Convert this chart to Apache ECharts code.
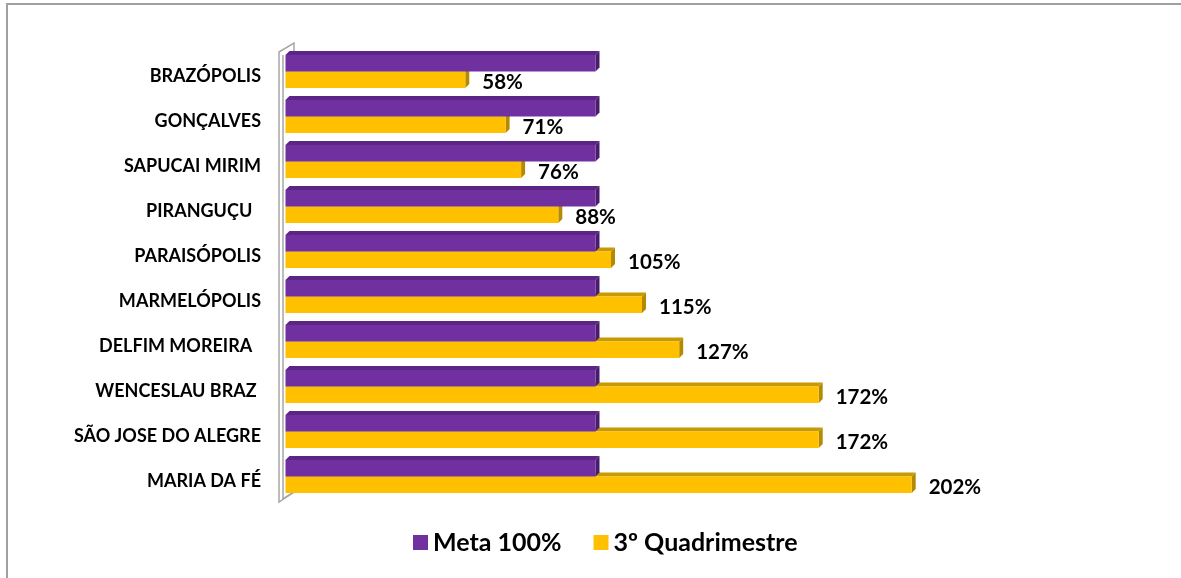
<!DOCTYPE html>
<html>
<head>
<meta charset="utf-8">
<script src="https://cdn.jsdelivr.net/npm/echarts@6/dist/echarts.min.js"></script>
<style>
html,body{margin:0;padding:0;background:#fff;}
#chart{width:1181px;height:578px;}
</style>
</head>
<body>
<div id="chart"></div>
<script>
// ---- data ----
const categories = ['BRAZÓPOLIS', 'GONÇALVES', 'SAPUCAI MIRIM', 'PIRANGUÇU  ', 'PARAISÓPOLIS', 'MARMELÓPOLIS', 'DELFIM MOREIRA  ', 'WENCESLAU BRAZ ', 'SÃO JOSE DO ALEGRE', 'MARIA DA FÉ'];
const metaValues = [100, 100, 100, 100, 100, 100, 100, 100, 100, 100];
const quadValues = [58, 71, 76, 88, 105, 115, 127, 172, 172, 202];
const seriesNames = ['Meta 100%', '3º Quadrimestre'];

// ---- layout / style ----
const FONT = 'Lato, "Liberation Sans", sans-serif';
const GL = 285.5, GT = 53.5, GH = 450, XMAX = 250, PX_PER = 3.1;
const BAR_H = 16.5, DEPTH = 4, SHIFT = -4.5;

const chart = echarts.init(document.getElementById('chart'), null, {renderer: 'canvas'});

function make3DBar(colors, which) {
  return function (params, api) {
    const cat = api.value(0);
    const val = api.value(1);
    const s = api.coord([0, cat]);
    const e = api.coord([val, cat]);
    const c = s[1] + SHIFT;
    const x0 = s[0], x1 = e[0];
    const yTop = which === 0 ? c - BAR_H : c;
    const h = BAR_H, d = DEPTH;
    const children = [
      {type: 'polygon', shape: {points: [[x0, yTop], [x0 + d, yTop - d], [x1 + d, yTop - d], [x1, yTop]]},
        style: {fill: colors.top}},
      {type: 'polygon', shape: {points: [[x1, yTop], [x1 + d, yTop - d], [x1 + d, yTop + h - d], [x1, yTop + h]]},
        style: {fill: colors.side}},
      {type: 'rect', shape: {x: x0, y: yTop, width: x1 - x0, height: h}, style: {fill: colors.front}}
    ];
    if (which === 1) {
      children.push({type: 'text', style: {text: val + '%', x: x1 + 17, y: yTop + h / 2 + 3,
        verticalAlign: 'middle', align: 'left', fill: '#000', font: 'bold 20.5px ' + FONT}});
    }
    return {type: 'group', children: children};
  };
}

const purple = {front: '#7030A0', top: '#5B2585', side: '#4A1C6E'};
const yellow = {front: '#FFC000', top: '#C99A00', side: '#B48A00'};

const wallColor = '#A6A6A6';
const option = {
  animation: false,
  backgroundColor: '#fff',
  grid: {left: GL, top: GT, width: XMAX * PX_PER, height: GH, containLabel: false},
  xAxis: {type: 'value', min: 0, max: XMAX, show: false},
  yAxis: {
    type: 'category', data: categories, inverse: true,
    axisLine: {show: false}, axisTick: {show: false}, splitLine: {show: false},
    axisLabel: {margin: 24.5, color: '#000', fontWeight: 'bold', fontSize: 18, fontFamily: FONT}
  },
  legend: {
    data: seriesNames, top: 525, left: 408, icon: 'rect', itemWidth: 15, itemHeight: 15, itemGap: 32,
    textStyle: {color: '#000', fontWeight: 'bold', fontSize: 25, fontFamily: FONT}
  },
  graphic: [
    {type: 'rect', shape: {x: 7, y: 4, width: 1300, height: 700}, style: {fill: 'none', stroke: '#A0A0A0', lineWidth: 2}, z: 0},
    {type: 'polyline', shape: {points: [[GL + 8.5, 53], [GL + 8.5, 43], [GL - 6.5, 52], [GL - 6.5, 502], [GL + 8.5, 492]]},
      style: {fill: 'none', stroke: wallColor, lineWidth: 1.5}, z: 0},
    {type: 'polyline', shape: {points: [[GL - 2.5, 55], [GL - 2.5, 499], [GL + 8.5, 492]]},
      style: {fill: 'none', stroke: wallColor, lineWidth: 1.5}, z: 0}
  ],
  series: [
    {name: seriesNames[1], type: 'custom', renderItem: make3DBar(yellow, 1), color: yellow.front,
      encode: {x: 1, y: 0}, data: quadValues.map((v, i) => [i, v]), z: 2},
    {name: seriesNames[0], type: 'custom', renderItem: make3DBar(purple, 0), color: purple.front,
      encode: {x: 1, y: 0}, data: metaValues.map((v, i) => [i, v]), z: 3}
  ]
};
chart.setOption(option);
</script>
</body>
</html>
